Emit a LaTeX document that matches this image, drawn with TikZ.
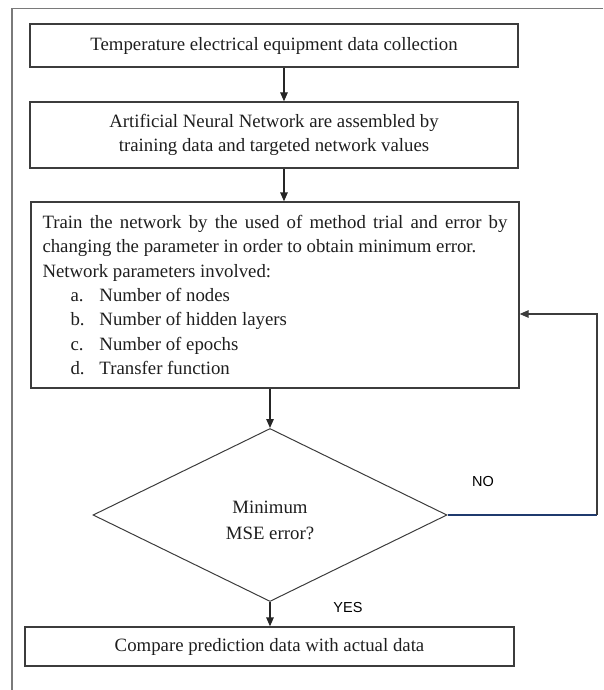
\documentclass[tikz,border=0pt]{standalone}
\usepackage{fontspec}
\setmainfont{Liberation Serif}
\newfontfamily\labelfont{Liberation Sans}
\usetikzlibrary{arrows.meta,shapes.geometric}
\definecolor{boxline}{HTML}{3C3C3C}
\definecolor{frameline}{HTML}{7A7A7A}
\definecolor{noline}{HTML}{1F3A6E}
\definecolor{txt}{HTML}{1E1E1E}
\tikzset{
  stepbox/.style={draw=boxline, line width=1.3pt, rectangle, inner sep=0pt, text=txt,
    font=\fontsize{18.8}{24.3}\selectfont, align=center},
  decision/.style={draw=boxline, line width=1pt, diamond, inner sep=0pt, aspect=2},
  flowarrow/.style={draw=black!85, line width=1.3pt, -{Triangle[length=9pt,width=7.5pt]}},
  yesno/.style={font=\labelfont\fontsize{14.5}{16}\selectfont, text=black, inner sep=0pt}
}
\begin{document}
\begin{tikzpicture}[x=1pt,y=-1pt]
\useasboundingbox (0,0) rectangle (603,690);
\draw[frameline, line width=1.3pt] (603,8.5) -- (12,8.5) -- (12,690);

\node[stepbox, minimum width=488pt, minimum height=43pt] (box1) at (274,45.5)
  {Temperature electrical equipment data collection};
\node[stepbox, minimum width=488pt, minimum height=66pt] (box2) at (274,135)
  {Artificial Neural Network are assembled by\\training data and targeted network values};
\node[stepbox, minimum width=488pt, minimum height=186pt, text width=465pt, inner xsep=11.5pt, align=justify] (box3) at (275,295)
  {Train the network by the used of method trial and error by\linebreak
   changing the parameter in order to obtain minimum error.\\
   Network parameters involved:\\
   \hspace*{28pt}\makebox[29pt][l]{a.}Number of nodes\\
   \hspace*{28pt}\makebox[29pt][l]{b.}Number of hidden layers\\
   \hspace*{28pt}\makebox[29pt][l]{c.}Number of epochs\\
   \hspace*{28pt}\makebox[29pt][l]{d.}Transfer function};
\node[decision, minimum width=354pt, minimum height=173pt] (dia) at (270,515) {};
\node[text=txt, font=\fontsize{18.8}{26}\selectfont, align=center, inner sep=0pt] (diatext) at (270,520)
  {Minimum\\MSE error?};
\node[stepbox, minimum width=489pt, minimum height=39pt] (box5) at (269.5,646.5)
  {Compare prediction data with actual data};

\coordinate (ax) at (284,0);
\coordinate (loopA) at (597,515);
\coordinate (loopB) at (597,314);

\draw[flowarrow] (box1.south -| ax) -- (box2.north -| ax);
\draw[flowarrow] (box2.south -| ax) -- (box3.north -| ax);
\draw[flowarrow] (box3.south -| dia.north) -- (dia.north);
\draw[flowarrow] (dia.south) -- (box5.north -| dia.south);
\draw[noline, line width=1.3pt] (dia.east) -- (loopA);
\draw[flowarrow, draw=boxline] (loopA) -- (loopB) -- (box3.east |- loopB);

\node[yesno] (nolabel) at (483,482) {NO};
\node[yesno] (yeslabel) at (348,608) {YES};
\end{tikzpicture}
\end{document}
